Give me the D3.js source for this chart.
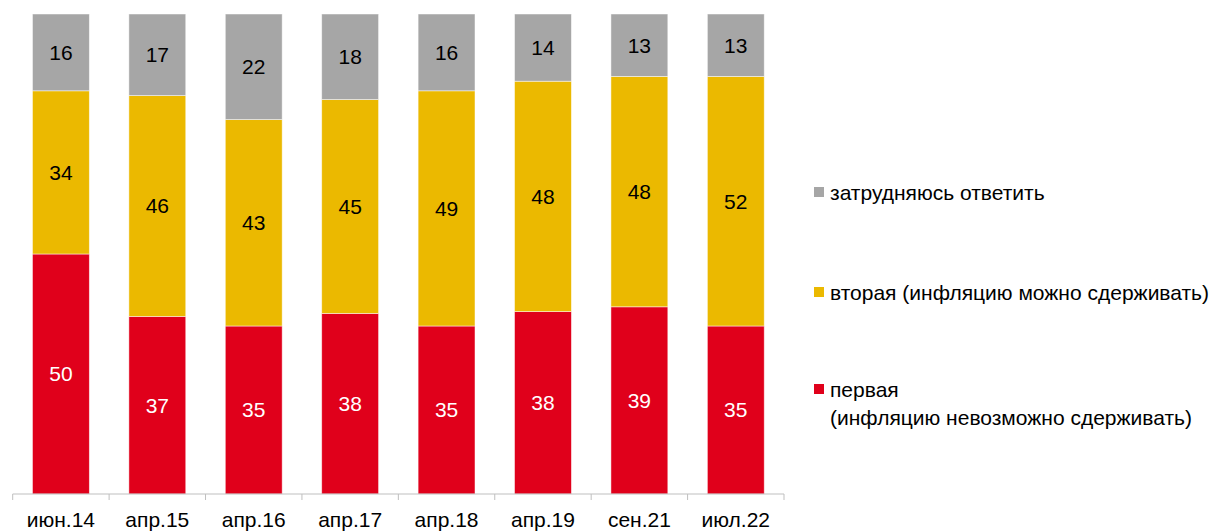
<!DOCTYPE html>
<html>
<head>
<meta charset="utf-8">
<script src="https://cdn.jsdelivr.net/npm/d3@7"></script>
<style>
  body { margin: 0; background: #fff; }
  svg { font-family: Arial, "Liberation Sans", sans-serif; }
</style>
</head>
<body>
<svg width="1220" height="531"></svg>
<script>
// данные опроса, %
const categories = ['июн.14', 'апр.15', 'апр.16', 'апр.17', 'апр.18', 'апр.19', 'сен.21', 'июл.22'];
const first = [50, 37, 35, 38, 35, 38, 39, 35];
const second = [34, 46, 43, 45, 49, 48, 48, 52];
const hard = [16, 17, 22, 18, 16, 14, 13, 13];

const keys = ['first', 'second', 'hard'];
const colors = { first: '#e0001b', second: '#ebb900', hard: '#a6a6a6' };
const labelColors = { first: '#fff', second: '#000', hard: '#000' };

const rows = categories.map((c, i) => ({ cat: c, first: first[i], second: second[i], hard: hard[i] }));

const svg = d3.select('svg');
const margin = { top: 14, left: 13, bottom: 37 };
const innerH = 531 - margin.top - margin.bottom;

const x = d3.scaleBand().domain(categories).range([12.7, 784]).paddingInner(0.41).paddingOuter(0.205);
const y = d3.scaleLinear().domain([0, 1]).range([margin.top + innerH, margin.top]);

const stack = d3.stack().keys(keys).offset(d3.stackOffsetExpand);
const series = stack(rows);

const g = svg.append('g');

series.forEach(s => {
  const layer = g.append('g');
  layer.selectAll('rect')
    .data(s)
    .enter().append('rect')
    .attr('x', d => x(d.data.cat))
    .attr('width', x.bandwidth())
    .attr('y', d => y(d[1]))
    .attr('height', d => y(d[0]) - y(d[1]))
    .attr('fill', colors[s.key])
    .attr('stroke', 'rgba(255,255,255,0.6)')
    .attr('stroke-width', 0.8);

  layer.selectAll('text')
    .data(s)
    .enter().append('text')
    .attr('x', d => x(d.data.cat) + x.bandwidth() / 2)
    .attr('y', d => (y(d[0]) + y(d[1])) / 2)
    .attr('dy', '0.35em')
    .attr('text-anchor', 'middle')
    .attr('font-size', 21)
    .attr('fill', labelColors[s.key])
    .text(d => d.data[s.key]);
});

// ось X
const axisY = y(0);
const step = x.step();
const edges = d3.range(categories.length + 1).map(i => 12.7 + i * step);

svg.append('line')
  .attr('x1', 12.7).attr('x2', 784)
  .attr('y1', axisY).attr('y2', axisY)
  .attr('stroke', '#bfbfbf').attr('stroke-width', 1);

svg.selectAll('line.tick')
  .data(edges)
  .enter().append('line')
  .attr('class', 'tick')
  .attr('x1', d => d).attr('x2', d => d)
  .attr('y1', axisY).attr('y2', axisY + 6)
  .attr('stroke', '#bfbfbf');

svg.selectAll('text.cat')
  .data(categories)
  .enter().append('text')
  .attr('class', 'cat')
  .attr('x', d => x(d) + x.bandwidth() / 2)
  .attr('y', 527)
  .attr('text-anchor', 'middle')
  .attr('font-size', 21)
  .attr('fill', '#000')
  .text(d => d);

// легенда
const legend = [
  { key: 'hard', lines: ['затрудняюсь ответить'], y: 200 },
  { key: 'second', lines: ['вторая (инфляцию можно сдерживать)'], y: 300 },
  { key: 'first', lines: ['первая', '(инфляцию невозможно сдерживать)'], y: 397 }
];

const lg = svg.append('g');
legend.forEach(item => {
  lg.append('rect')
    .attr('x', 814).attr('y', item.y - 13)
    .attr('width', 10).attr('height', 10)
    .attr('fill', colors[item.key]);
  const t = lg.append('text')
    .attr('x', 830).attr('y', item.y)
    .attr('font-size', 21)
    .attr('fill', '#000');
  item.lines.forEach((l, i) => {
    t.append('tspan').attr('x', 830).attr('dy', i === 0 ? 0 : 28).text(l);
  });
});
</script>
</body>
</html>
